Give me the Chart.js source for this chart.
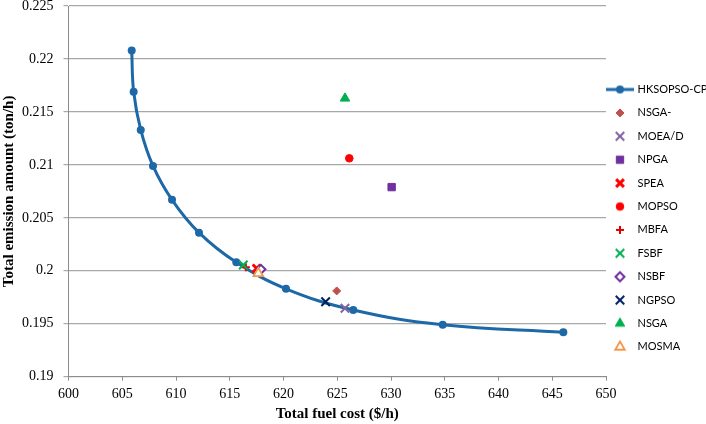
<!DOCTYPE html>
<html>
<head>
<meta charset="utf-8">
<script src="https://cdn.jsdelivr.net/npm/chart.js@4.4.1/dist/chart.umd.min.js"></script>
<style>
html,body{margin:0;padding:0;background:#fff;}
canvas{display:block;}
</style>
</head>
<body>
<canvas id="c" width="706" height="424"></canvas>
<script>
// ---------- data ----------
const curveName = 'HKSOPSO-CP';
const curveCost = [605.88, 606.06, 606.72, 607.86, 609.63, 612.14, 615.61, 620.23, 626.49, 634.81, 646.03];
const curveEmission = [0.2208, 0.2169, 0.2133, 0.2099, 0.2067, 0.2036, 0.2008, 0.1983, 0.1963, 0.1949, 0.1942];

const methodNames = ['NSGA-', 'MOEA/D', 'NPGA', 'SPEA', 'MOPSO', 'MBFA', 'FSBF', 'NSBF', 'NGPSO', 'NSGA', 'MOSMA'];
const methodCost = [624.95, 625.72, 630.06, 617.50, 626.12, 616.50, 616.26, 617.90, 623.92, 625.72, 617.66];
const methodEmission = [0.1981, 0.19646, 0.2079, 0.20023, 0.21062, 0.20033, 0.20054, 0.20014, 0.19708, 0.21628, 0.19976];

const xTickValues = [600, 605, 610, 615, 620, 625, 630, 635, 640, 645, 650];
const yTickValues = [0.19, 0.195, 0.2, 0.205, 0.21, 0.215, 0.22, 0.225];

// ---------- styles ----------
const curveColor = '#1D69A8';
const methodStyles = [
  {pointStyle: 'rectRot',  radius: 4,   fill: '#C0504D', stroke: '#C0504D', bw: 1},
  {pointStyle: 'crossRot', radius: 6,   fill: '#8064A2', stroke: '#8064A2', bw: 2},
  {pointStyle: 'rect',     radius: 5.2, fill: '#7030A0', stroke: '#7030A0', bw: 1},
  {pointStyle: 'crossRot', radius: 5.5, fill: '#FF0000', stroke: '#FF0000', bw: 3},
  {pointStyle: 'circle',   radius: 3.8, fill: '#FF0000', stroke: '#FF0000', bw: 1},
  {pointStyle: 'cross',    radius: 4,   fill: '#E00000', stroke: '#E00000', bw: 2},
  {pointStyle: 'crossRot', radius: 6,   fill: '#00B050', stroke: '#00B050', bw: 2},
  {pointStyle: 'rectRot',  radius: 4.5, fill: '#FFFFFF', stroke: '#7030A0', bw: 2},
  {pointStyle: 'crossRot', radius: 6,   fill: '#002060', stroke: '#002060', bw: 2},
  {pointStyle: 'triangle', radius: 5.5, fill: '#00B050', stroke: '#00B050', bw: 1},
  {pointStyle: 'triangle', radius: 5.5, fill: '#FFFFFF', stroke: '#F79646', bw: 1.8}
];

// ---------- legend icons ----------
function markerIcon(st) {
  const cv = document.createElement('canvas');
  cv.width = 18; cv.height = 18;
  const ctx = cv.getContext('2d');
  ctx.fillStyle = st.fill;
  ctx.strokeStyle = st.stroke;
  ctx.lineWidth = st.bw;
  Chart.helpers.drawPoint(ctx, {pointStyle: st.pointStyle, radius: st.radius, borderWidth: st.bw, rotation: 0}, 9, 9);
  return cv;
}
function lineIcon() {
  const cv = document.createElement('canvas');
  cv.width = 28; cv.height = 12;
  const ctx = cv.getContext('2d');
  ctx.strokeStyle = curveColor;
  ctx.lineWidth = 3;
  ctx.beginPath(); ctx.moveTo(0, 6); ctx.lineTo(28, 6); ctx.stroke();
  ctx.fillStyle = curveColor;
  ctx.beginPath(); ctx.arc(14, 6, 4, 0, Math.PI * 2); ctx.fill();
  return cv;
}
const legendIcons = [lineIcon()].concat(methodStyles.map(markerIcon));

// ---------- datasets ----------
const datasets = [{
  label: curveName,
  data: curveCost.map((x, i) => ({x: x, y: curveEmission[i]})),
  showLine: true,
  tension: 0.4,
  borderColor: curveColor,
  backgroundColor: curveColor,
  borderWidth: 3,
  pointRadius: 4,
  pointBorderWidth: 0,
  pointBackgroundColor: curveColor,
  order: 20
}];
methodNames.forEach((name, i) => {
  const st = methodStyles[i];
  datasets.push({
    label: name,
    data: [{x: methodCost[i], y: methodEmission[i]}],
    showLine: false,
    pointStyle: st.pointStyle,
    pointRadius: st.radius,
    pointBackgroundColor: st.fill,
    pointBorderColor: st.stroke,
    pointBorderWidth: st.bw,
    backgroundColor: st.fill,
    borderColor: st.stroke,
    order: 12 - i
  });
});

const serif = "'Liberation Serif', 'Times New Roman', serif";

new Chart(document.getElementById('c'), {
  type: 'scatter',
  data: {datasets: datasets},
  options: {
    responsive: false,
    animation: false,
    devicePixelRatio: 1,
    layout: {padding: {top: 6, left: 0, right: 0, bottom: 0}, autoPadding: false},
    plugins: {
      tooltip: {enabled: false},
      legend: {
        position: 'right',
        align: 'center',
        maxWidth: 100,
        title: {display: true, text: ' ', padding: 0, font: {size: 11, lineHeight: '16.8px'}},
        labels: {
          usePointStyle: true,
          pointStyleWidth: 24,
          padding: 2,
          color: '#000',
          font: {family: "Lato, 'Liberation Sans', sans-serif", size: 11, lineHeight: '21.4px'},
          generateLabels: (chart) => chart.data.datasets.map((ds, i) => ({
            text: [ds.label],
            pointStyle: legendIcons[i],
            fillStyle: 'rgba(0,0,0,0)',
            strokeStyle: 'rgba(0,0,0,0)',
            lineWidth: 0,
            hidden: false,
            datasetIndex: i,
            fontColor: '#000'
          }))
        }
      }
    },
    scales: {
      x: {
        type: 'linear',
        min: xTickValues[0],
        max: xTickValues[xTickValues.length - 1],
        afterFit: (s) => { s.height = 47.3; s.paddingLeft = 0; s.paddingRight = 0; s.paddingTop = 0; s.paddingBottom = 0; },
        ticks: {
          stepSize: xTickValues[1] - xTickValues[0],
          padding: 5,
          color: '#000',
          font: {family: serif, size: 14},
          callback: (v) => String(v)
        },
        grid: {display: true, drawOnChartArea: false, drawTicks: true, tickLength: 4, color: '#8C8C8C'},
        border: {display: true, color: '#8C8C8C', width: 1},
        title: {display: true, text: 'Total fuel cost ($/h)', color: '#000', padding: {top: 0, bottom: 1},
                font: {family: serif, size: 15, weight: 'bold'}}
      },
      y: {
        type: 'linear',
        min: yTickValues[0],
        max: yTickValues[yTickValues.length - 1],
        afterFit: (s) => { s.width = 68.5; s.paddingLeft = 0; s.paddingRight = 0; s.paddingTop = 0; s.paddingBottom = 0; },
        ticks: {
          stepSize: +(yTickValues[1] - yTickValues[0]).toFixed(4),
          padding: 10,
          color: '#000',
          font: {family: serif, size: 14},
          callback: (v) => String(parseFloat(Number(v).toFixed(4)))
        },
        grid: {display: true, drawTicks: true, tickLength: 5, color: '#A8A8A8', lineWidth: 1.2},
        border: {display: true, color: '#8C8C8C', width: 1},
        title: {display: true, text: 'Total emission amount (ton/h)', color: '#000', padding: {top: 0, bottom: 0},
                font: {family: serif, size: 15, weight: 'bold'}}
      }
    }
  }
});
</script>
</body>
</html>
